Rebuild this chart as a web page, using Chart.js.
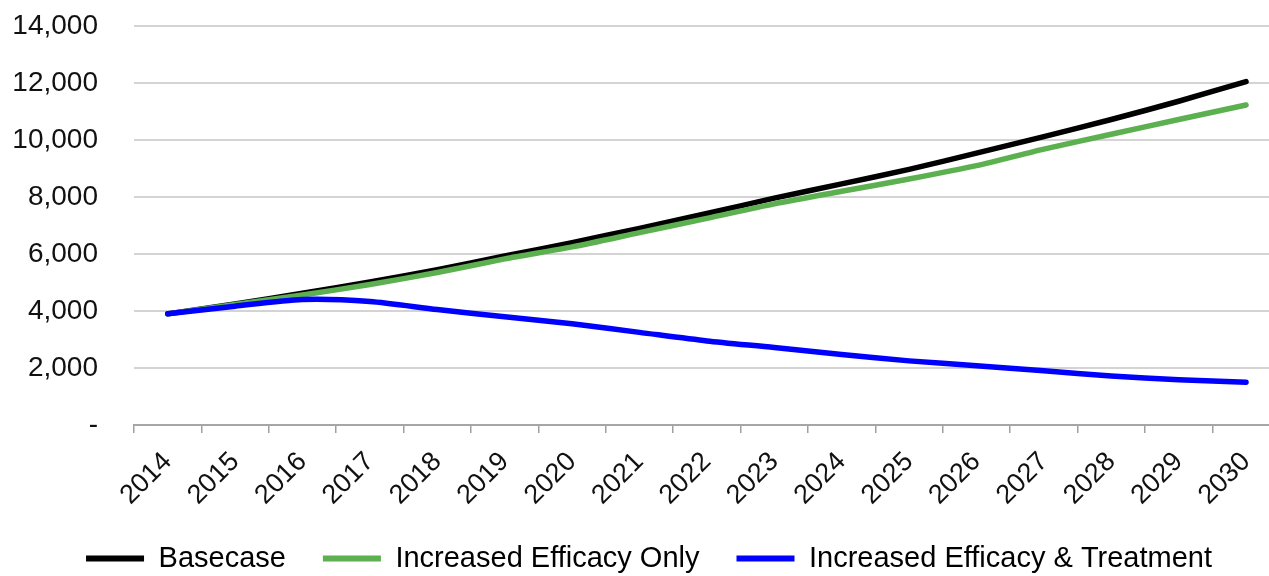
<!DOCTYPE html>
<html>
<head>
<meta charset="utf-8">
<script src="https://cdn.jsdelivr.net/npm/chart.js@4.4.1/dist/chart.umd.min.js"></script>
<style>
  html, body { margin: 0; padding: 0; background: #ffffff; overflow: hidden; }
  #wrap { position: relative; width: 1282px; height: 576px; }
</style>
</head>
<body>
<div id="wrap"><canvas id="c"></canvas></div>
<script>
const years = ['2014','2015','2016','2017','2018','2019','2020','2021','2022','2023','2024','2025','2026','2027','2028','2029','2030'];
const basecase = [3900, 4250, 4620, 5020, 5450, 5930, 6400, 6900, 7420, 7960, 8460, 8970, 9540, 10120, 10720, 11360, 12050];
const efficacyOnly = [3900, 4230, 4560, 4930, 5350, 5830, 6250, 6750, 7250, 7760, 8200, 8630, 9100, 9680, 10200, 10720, 11230];
const efficacyTreatment = [3900, 4170, 4400, 4330, 4050, 3800, 3550, 3250, 2950, 2720, 2470, 2250, 2080, 1900, 1720, 1590, 1500];
const seriesNames = ['Basecase', 'Increased Efficacy Only', 'Increased Efficacy & Treatment'];
const seriesColors = ['#000000', '#5cb050', '#0000ff'];
const yTicks = [0, 2000, 4000, 6000, 8000, 10000, 12000, 14000];

const FONT = "'Liberation Sans', Arial, sans-serif";
const LEGEND_SHIFT = 9;

const mk = (i, data, order) => ({
  label: seriesNames[i],
  data: data,
  borderColor: seriesColors[i],
  backgroundColor: seriesColors[i],
  borderWidth: 5.5,
  pointRadius: 0,
  pointHoverRadius: 0,
  tension: 0.25,
  fill: false,
  borderCapStyle: 'round',
  borderJoinStyle: 'round',
  order: order
});

const legendShift = {
  id: 'legendShift',
  afterLayout(chart) {
    const lg = chart.legend;
    if (lg) {
      lg.left += LEGEND_SHIFT;
      lg.right += LEGEND_SHIFT;
      if (lg.adjustHitBoxes) lg.adjustHitBoxes();
    }
  }
};

new Chart(document.getElementById('c'), {
  type: 'line',
  data: {
    labels: years,
    datasets: [
      mk(0, basecase, 3),
      mk(1, efficacyOnly, 2),
      mk(2, efficacyTreatment, 1)
    ]
  },
  plugins: [legendShift],
  options: {
    responsive: true,
    maintainAspectRatio: false,
    animation: false,
    events: [],
    layout: { padding: { top: 26, right: 2, left: 0, bottom: -7 } },
    plugins: {
      tooltip: { enabled: false },
      legend: {
        position: 'bottom',
        labels: {
          font: { family: FONT, size: 29 },
          color: '#111111',
          boxWidth: 58,
          boxHeight: 6,
          padding: 37,
          sort: (a, b) => a.datasetIndex - b.datasetIndex,
          generateLabels: (chart) => chart.data.datasets.map((ds, i) => ({
            text: ds.label,
            fillStyle: ds.borderColor,
            strokeStyle: ds.borderColor,
            lineWidth: 0,
            hidden: false,
            datasetIndex: i
          }))
        }
      }
    },
    scales: {
      x: {
        offset: true,
        grid: {
          offset: true,
          drawOnChartArea: false,
          drawTicks: true,
          tickLength: 8,
          color: '#a0a0a0',
          lineWidth: 1.5
        },
        border: { display: true, color: '#a6a6a6', width: 2 },
        ticks: {
          font: { family: FONT, size: 27 },
          color: '#111111',
          minRotation: 45,
          maxRotation: 45,
          padding: 13,
          autoSkip: false
        },
        afterFit: (s) => { s.height = 82; }
      },
      y: {
        min: 0,
        max: 14000,
        afterBuildTicks: (s) => { s.ticks = yTicks.map(v => ({ value: v })); },
        grid: {
          drawTicks: true,
          tickLength: 36,
          tickColor: 'rgba(0,0,0,0)',
          color: (ctx) => ctx.tick && ctx.tick.value === 0 ? 'rgba(0,0,0,0)' : '#d4d4d4',
          lineWidth: 2
        },
        border: { display: false },
        ticks: {
          font: { family: FONT, size: 28 },
          color: '#111111',
          padding: 0,
          callback: (v) => v === 0 ? '-' : v.toLocaleString('en-US')
        },
        afterFit: (s) => { s.width = 134; }
      }
    }
  }
});
</script>
</body>
</html>
